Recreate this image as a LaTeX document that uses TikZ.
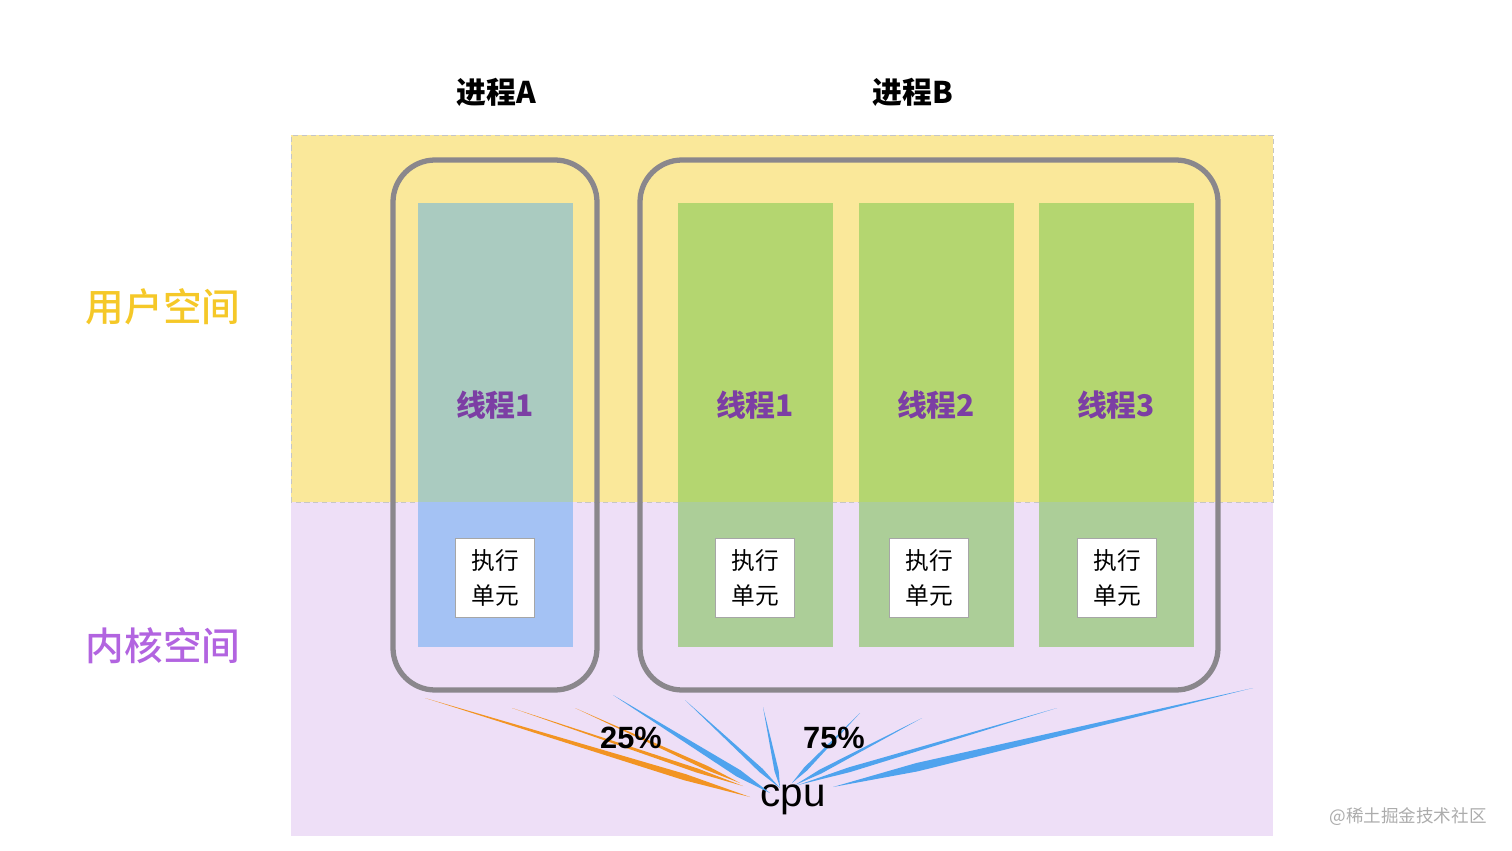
\documentclass[tikz,border=0pt]{standalone}
\usepackage{fontspec}
\newfontfamily\cjk{Noto Sans CJK SC}
\newfontfamily\cjkmed{Noto Sans CJK SC Medium}
\newfontfamily\latin{Liberation Sans}
\usepackage{tikz}
\usetikzlibrary{calc}

\definecolor{userbg}{RGB}{250,232,154}
\definecolor{kernbg}{RGB}{238,223,247}
\definecolor{frame}{RGB}{138,135,140}
\definecolor{tealA}{RGB}{170,203,192}
\definecolor{blueA}{RGB}{164,194,244}
\definecolor{greenU}{RGB}{180,214,112}
\definecolor{greenK}{RGB}{172,206,152}
\definecolor{threadtxt}{RGB}{124,62,164}
\definecolor{usertxt}{RGB}{245,200,40}
\definecolor{kerntxt}{RGB}{178,100,224}
\definecolor{beamO}{RGB}{242,148,35}
\definecolor{beamB}{RGB}{79,163,238}

\begin{document}
\begin{tikzpicture}[x=0.02cm, y=-0.02cm,
  proc/.style={draw=frame, line width=3pt, rounded corners=24pt},
  unitbox/.style={draw=gray!70, fill=white, minimum width=1.58cm, minimum height=1.58cm,
    inner sep=0pt, align=center, font=\cjk\fontsize{13.5}{20.4}\selectfont},
  tlabel/.style={font=\cjk\bfseries\fontsize{17}{20}\selectfont, text=threadtxt},
  ptitle/.style={font=\cjk\bfseries\fontsize{17}{20}\selectfont},
  space/.style={font=\cjkmed\fontsize{22}{26}\selectfont},
  pct/.style={font=\latin\bfseries\fontsize{17.5}{20}\selectfont}]
\useasboundingbox (0,0) rectangle (1512,851);

% user / kernel space
\fill[userbg] (291,135) rectangle (1273,502);
\fill[kernbg] (291,502) rectangle (1273,836);
\draw[gray!45, densely dashed, line width=0.4pt] (291,502) -- (291,135) -- (1273,135) -- (1273,502) -- cycle;
\node[space, text=usertxt] (user) at (163,307) {用户空间};
\node[space, text=kerntxt] (kern) at (163,646) {内核空间};

% threads
\fill[tealA] (418,203) rectangle (573,502);
\fill[blueA] (418,502) rectangle (573,647);
\foreach \tx in {678,859,1039} {
  \fill[greenU] (\tx,203) rectangle ++(155,299);
  \fill[greenK] (\tx,502) rectangle ++(155,145);
}

% processes
\draw[proc] (393,160) rectangle (597,690);
\draw[proc] (640,160) rectangle (1218,690);
\node[ptitle] (pa) at (496,92) {进程A};
\node[ptitle] (pb) at (913,92) {进程B};

\node[tlabel] (ta1) at (495,405) {线程1};
\node[tlabel] (tb1) at (755,405) {线程1};
\node[tlabel] (tb2) at (936,405) {线程2};
\node[tlabel] (tb3) at (1116,405) {线程3};

\node[unitbox] (ua1) at (495,578) {执行\\单元};
\node[unitbox] (ub1) at (755,578) {执行\\单元};
\node[unitbox] (ub2) at (929,578) {执行\\单元};
\node[unitbox] (ub3) at (1117,578) {执行\\单元};

% cpu share
\node[font=\latin\fontsize{23}{26}\selectfont] (cpu) at (793,800) {cpu};
\foreach \fx/\fy/\nx/\ny/\w/\c in {
  425/698/750/797/1.8pt/beamO, 512/708/743/786/1.2pt/beamO, 575/708/740/783/1.2pt/beamO,
  613/695/770/793/2.1pt/beamB, 685/700/780/788/1.3pt/beamB, 763/707/780/787/1.2pt/beamB,
  860/713/792/783/1.2pt/beamB, 922/718/795/785/1.2pt/beamB, 1057/708/798/785/1.4pt/beamB,
  1253/688/833/787/2.4pt/beamB} {
  \coordinate (far) at (\fx,\fy);
  \coordinate (near) at (\nx,\ny);
  \coordinate (mid) at ($(far)!0.8!(near)$);
  \fill[\c] (far) -- ($(mid)!\w!90:(near)$) -- (near) -- ($(mid)!\w!-90:(near)$) -- cycle;
}
\node[pct] (p25) at (631,738) {25\%};
\node[pct] (p75) at (834,738) {75\%};

\node[font=\cjk\fontsize{10}{12}\selectfont, text=gray!65] (mark) at (1408,817) {@稀土掘金技术社区};
\end{tikzpicture}
\end{document}
